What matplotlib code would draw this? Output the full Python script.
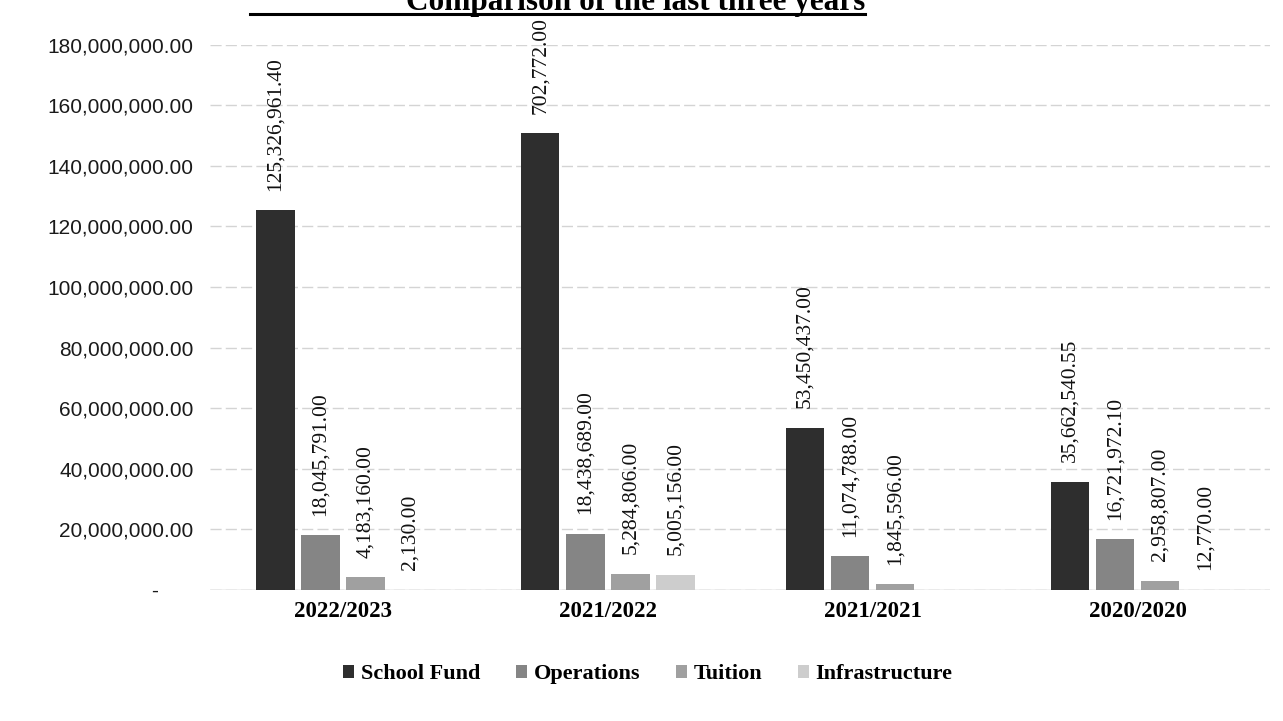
import matplotlib
matplotlib.use("Agg")
import matplotlib.pyplot as plt
import numpy as np
from matplotlib.ticker import FuncFormatter
from matplotlib.lines import Line2D

title = "Comparison of the last three years"
categories = ["2022/2023", "2021/2022", "2021/2021", "2020/2020"]
series_names = ["School Fund", "Operations", "Tuition", "Infrastructure"]
school_fund = [125326961.40, 150702772.00, 53450437.00, 35662540.55]
operations = [18045791.00, 18438689.00, 11074788.00, 16721972.10]
tuition = [4183160.00, 5284806.00, 1845596.00, 2958807.00]
infrastructure = [2130.00, 5005156.00, np.nan, 12770.00]
# data labels as printed in the picture (the 2021/2022 School Fund label shows only its tail)
school_fund_labels = ["125,326,961.40", "702,772.00", "53,450,437.00", "35,662,540.55"]
y_ticks = [0, 20e6, 40e6, 60e6, 80e6, 100e6, 120e6, 140e6, 160e6, 180e6]

colors = ["#2e2e2e", "#858585", "#a0a0a0", "#cdcdcd"]
serif = ["Liberation Serif", "DejaVu Serif"]
sans = ["Liberation Sans", "DejaVu Sans"]

W, H = 1283, 721
fig = plt.figure(figsize=(W / 100, H / 100), dpi=100)
ax = fig.add_axes([0.164, 0.182, 0.826, 0.756])

series = [school_fund, operations, tuition, infrastructure]
x = np.arange(len(categories))
slot = 0.17
width = 0.145
for i, (name, vals, c) in enumerate(zip(series_names, series, colors)):
    pos = x + (i - 1.5) * slot
    vals_arr = np.array(vals, dtype=float)
    ax.bar(pos, np.nan_to_num(vals_arr), width=width, color=c, label=name, zorder=3)
    for j, (p, v) in enumerate(zip(pos, vals_arr)):
        if np.isnan(v):
            continue
        txt = school_fund_labels[j] if i == 0 else f"{v:,.2f}"
        ax.annotate(txt, xy=(p, v), xytext=(0, 14), textcoords="offset points",
                    rotation=90, ha="center", va="bottom", fontsize=15.5,
                    family=serif, color="#111111", annotation_clip=False)

ax.set_ylim(0, 180e6)
ax.set_xlim(-0.5, len(categories) - 0.5)
ax.set_yticks(y_ticks)
ax.yaxis.set_major_formatter(FuncFormatter(lambda v, p: "-      " if v == 0 else f"{v:,.2f}"))
ax.tick_params(axis="y", length=0, labelsize=15, pad=12, labelcolor="#1a1a1a")
for lab in ax.get_yticklabels():
    lab.set_family(sans)
ax.set_xticks(x)
ax.set_xticklabels(categories, fontsize=16.5, fontweight="bold", family=serif)
ax.tick_params(axis="x", length=0, pad=8)
ax.grid(axis="y", color="#d4d4d4", linewidth=1, linestyle=(0, (8, 3)), zorder=0)
for s in ax.spines.values():
    s.set_visible(False)
ax.axhline(0, color="#bbbbbb", linewidth=1, zorder=2)

fig.legend(loc="center", bbox_to_anchor=(0.505, 0.065), ncol=4, frameon=False,
           prop={"family": serif, "size": 16, "weight": "bold"},
           handlelength=0.5, handleheight=0.5, handletextpad=0.3, columnspacing=1.6)

fig.text(865 / W, 1 - 10 / H, title, ha="right", va="baseline", fontsize=22.5,
         fontweight="bold", family=serif)
fig.add_artist(Line2D([250 / W, 865 / W], [1 - 14 / H, 1 - 14 / H], color="black",
                      linewidth=2.2, transform=fig.transFigure))

fig.savefig("out.png", dpi=100)
